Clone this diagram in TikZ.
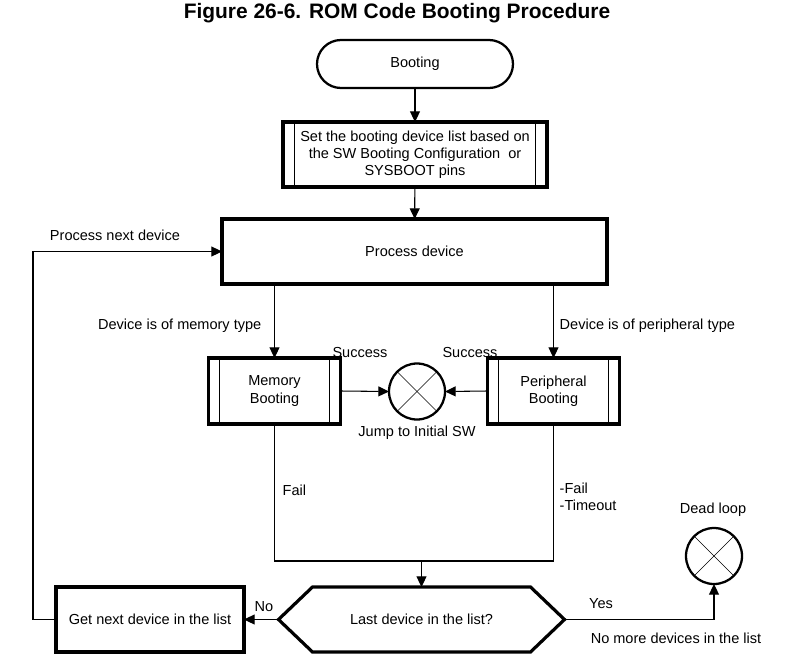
\documentclass[tikz,border=0pt]{standalone}
\usepackage{fontspec}
\setmainfont{Liberation Sans}
\usetikzlibrary{arrows.meta}

\begin{document}
\begin{tikzpicture}[x=0.75pt,y=-0.75pt,
  font=\fontsize{10.9}{12.8}\selectfont,
  box/.style={draw,line width=2.4pt,align=center,outer sep=0pt,inner sep=0pt},
  arr/.style={-{Triangle[length=8pt,width=7.5pt]},line width=0.8pt},
  link/.style={line width=0.8pt},
  cross/.style={draw,circle,line width=1.7pt,minimum size=42pt,outer sep=0pt,inner sep=0pt}]
\useasboundingbox (0,0) rectangle (793,665);

\node (title) at (397,13) {\fontsize{15.7}{18}\selectfont\bfseries Figure 26-6. ROM Code Booting Procedure};

\node (boot) [box,rounded corners=18pt,line width=1.7pt,minimum width=147pt,minimum height=36pt] at (415,64) {Booting};
\node (setlist) [box,minimum width=198pt,minimum height=48.75pt] at (415,154.5) {Set the booting device list based on\\the SW Booting Configuration\ \ or\\SYSBOOT pins};
\node (proc) [box,minimum width=288.75pt,minimum height=48.75pt] at (414.5,251.5) {Process device};
\node (mem) [box,minimum width=99pt,minimum height=49.5pt] at (274.5,391) {Memory\\Booting};
\node (peri) [box,minimum width=99pt,minimum height=49.5pt] at (553.5,391) {Peripheral\\Booting};
\node (jump) [cross] at (417,391.5) {};
\node (last) [minimum width=214.5pt,minimum height=48.75pt,outer sep=0pt] at (421.5,619.5) {Last device in the list?};
\node (next) [box,minimum width=141pt,minimum height=48.75pt] at (150,619.5) {Get next device in the list};
\node (dead) [cross] at (714,556) {};

% double sides of the predefined steps
\foreach \n in {setlist,mem,peri} {
  \draw [link] ([xshift=8.5pt]\n.north west) -- ([xshift=8.5pt]\n.south west);
  \draw [link] ([xshift=-8.5pt]\n.north east) -- ([xshift=-8.5pt]\n.south east);
}
% hexagon of the decision
\draw [line width=2.4pt] (last.west) -- ([xshift=25.5pt]last.north west) -- ([xshift=-25.5pt]last.north east)
  -- (last.east) -- ([xshift=-25.5pt]last.south east) -- ([xshift=25.5pt]last.south west) -- cycle;
% crosses in the circles
\foreach \n in {jump,dead} {
  \draw [line width=0.5pt] (\n.north west) -- (\n.south east);
  \draw [line width=0.5pt] (\n.north east) -- (\n.south west);
}

\draw [arr] (boot) -- (setlist);
\draw [arr] (setlist) -- (proc);
\draw [arr] (mem.north |- proc.south) -- (mem.north);
\draw [arr] (peri.north |- proc.south) -- (peri.north);
\draw [arr] (mem.east) -- (jump.west);
\draw [arr] (peri.west) -- (jump.east);
\coordinate (fail) at (421.5,561);
\draw [link] (mem.south) |- (fail) -| (peri.south);
\draw [arr] (fail) -- (last.north);
\draw [arr] (last.west) -- (next.east);
\draw [arr] (next.west) -- ++(-23,0) |- (proc.west);
\draw [arr] (last.east) -| (dead.south);

\node (memtype) [anchor=east] at (266,326) {Device is of memory type};
\node (peritype) [anchor=west] at (555,326) {Device is of peripheral type};
\node (succmem) at (360,352) {Success};
\node (succperi) at (470,352) {Success};
\node (jumplbl) at (417,433) {Jump to Initial SW};
\node (faillbl) [anchor=west] at (278,490) {Fail};
\node (perifail) [anchor=west,align=left] at (555,496.5) {-Fail\\-Timeout};
\node (nolbl) at (264,607) {No};
\node (yeslbl) at (601,604) {Yes};
\node (nomore) at (676,638) {No more devices in the list};
\node (deadlbl) at (713,510) {Dead loop};
\node (nextlbl) at (115,235) {Process next device};
\end{tikzpicture}
\end{document}
